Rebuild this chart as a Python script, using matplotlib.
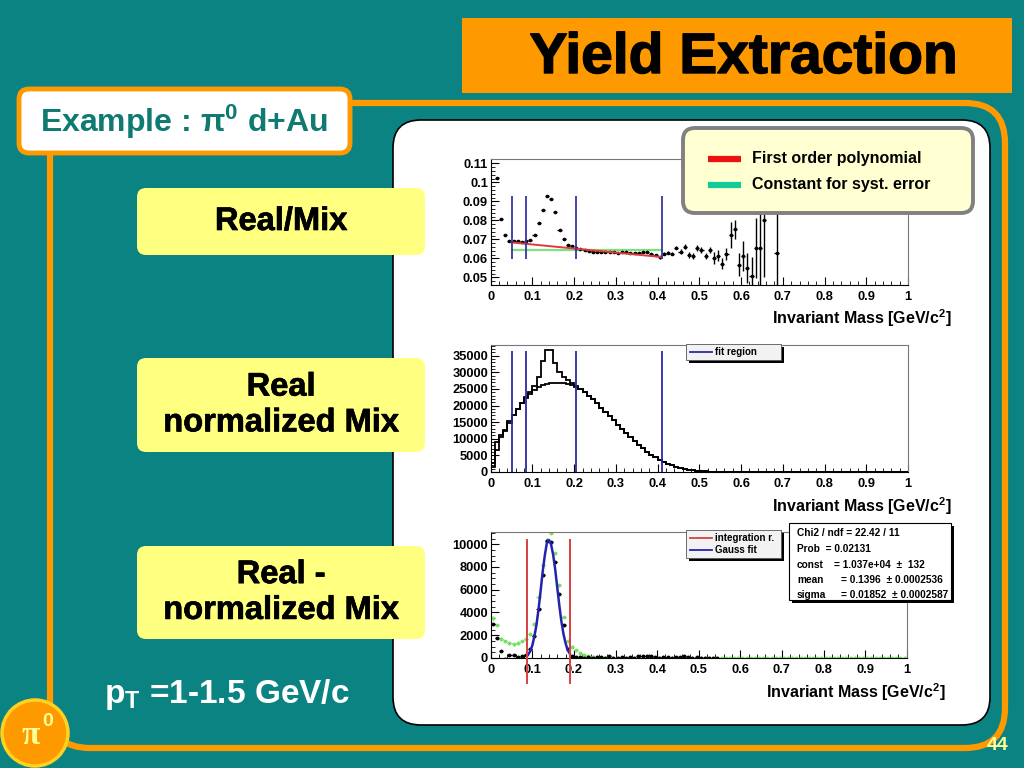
import numpy as np
import matplotlib.pyplot as plt
import matplotlib.patheffects as pe
from matplotlib.patches import FancyBboxPatch, Circle, Rectangle

plt.rcParams['font.family'] = ['Liberation Sans', 'DejaVu Sans']
plt.rcParams['font.weight'] = 'bold'

# ---------------- data ----------------
# fit region boundaries (GeV/c^2)
fit_edges = [0.05, 0.085, 0.205, 0.41]

# panel 1 : Real/Mix ratio
p1_mass = np.append(np.round(np.arange(0.015, 0.66, 0.01), 3), 0.685)
p1_ratio = [0.1022, 0.0808, 0.0724, 0.0692, 0.0693, 0.0690, 0.0688, 0.0690, 0.0697, 0.0722,
            0.0784, 0.0854, 0.0926, 0.0913, 0.0842, 0.0750, 0.0703, 0.0670, 0.0663, 0.0655,
            0.0648, 0.0643, 0.0640, 0.0634, 0.0634, 0.0634, 0.0632, 0.0636, 0.0632, 0.0630,
            0.0632, 0.0633, 0.0631, 0.0630, 0.0628, 0.0634, 0.0633, 0.0624, 0.0620, 0.0607,
            0.0625, 0.0631, 0.0624, 0.0655, 0.0636, 0.0662, 0.0619, 0.0614, 0.0655, 0.0645,
            0.0614, 0.0645, 0.0602, 0.0614, 0.0572, 0.0624, 0.0724, 0.0754, 0.0567, 0.0614,
            0.0549, 0.0509, 0.0655, 0.0655, 0.0803, 0.0628]
p1_err = [0.0004] * 39 + [0.0008] * 5 + [0.0015] * 8 + [0.003] * 4 + \
         [0.007, 0.005, 0.006, 0.008, 0.008, 0.010, 0.016, 0.020, 0.030, 0.030]
fit_x = [0.05, 0.41]
pol1_y = [0.0684, 0.0607]
const_y = [0.0645, 0.0645]

# panel 2 : Real and normalized Mix (bin width 0.01)
p2_edges = np.round(np.arange(0, 1.001, 0.01), 3)
mix_counts = [1500, 6500, 10500, 12300, 14800, 17000, 19000, 20800, 22300, 23600,
              24700, 25500, 26100, 26500, 26800, 26900, 26900, 26800, 26500, 26100,
              25600, 24900, 24000, 23000, 21900, 20700, 19400, 18100, 16800, 15500,
              14200, 12900, 11600, 10400, 9200, 8100, 7100, 6100, 5200, 4400,
              3700, 3100, 2500, 2000, 1600, 1250, 950, 720, 540, 400,
              290, 200, 140, 90, 60, 35, 20, 10, 5, 0] + [0] * 40
real_counts = [2700, 9000, 11200, 12500, 15200, 17200, 19000, 20700, 22600, 24000,
               26000, 28500, 33500, 36700, 36700, 32700, 30200, 28700, 27700, 26800,
               25800] + mix_counts[21:]

# panel 3 : Real - normalized Mix
p3_mass = np.round(np.arange(0.005, 1.0, 0.01), 3)
sub_black = [3000, 1800, 600, -100, 250, 300, 100, 200, 300, 800,
             1900, 4300, 7300, 10300, 10200, 8400, 5600, 2900, 800, 150,
             100, 50, 0, 80, 0, 60, 100, 30, 150, 20,
             40, 60, 0, 120, 40, 150, 200, 180, 150, 60,
             20, 80, 100, 30, 120, 50, 150, 100, 40, 80,
             30, 20, 10, 0, 0]
sub_green = [3500, 2900, 1700, 1500, 1300, 1200, 1300, 1500, 1700, 2100,
             3000, 5400, 8200, 10400, 11000, 9200, 6400, 3600, 1500, 1000,
             700, 450, 250, 150, 100, 60, 40, 30, 20, 10] + [0] * 70
gauss_x = [0.090, 0.095, 0.100, 0.105, 0.110, 0.115, 0.120, 0.125, 0.130, 0.135, 0.140,
           0.145, 0.150, 0.155, 0.160, 0.165, 0.170, 0.175, 0.180, 0.185, 0.190]
gauss_y = [300, 600, 1100, 1900, 2900, 4300, 5900, 7600, 9000, 10100, 10370,
           10000, 9100, 7800, 6200, 4600, 3200, 2100, 1300, 700, 400]
integ_edges = [0.087, 0.19]

stat_names = ['const', 'mean', 'sigma']
stat_vals = ['= 1.037e+04  \u00b1  132', '= 0.1396  \u00b1 0.0002536', '= 0.01852  \u00b1 0.0002587']

# ---------------- slide background ----------------
W, H = 1024, 768
fig = plt.figure(figsize=(10.24, 7.68), dpi=100)
fig.patch.set_facecolor('#0b8383')
bg = fig.add_axes([0, 0, 1, 1], zorder=0)
bg.set_xlim(0, W); bg.set_ylim(H, 0); bg.axis('off')

ORANGE = '#ff9900'
YELLOW = '#ffff80'
heavy = [pe.withStroke(linewidth=0.5, foreground='black')]


def rbox(ax, x0, y0, x1, y1, r, **kw):
    p = FancyBboxPatch((x0, y0), x1 - x0, y1 - y0,
                       boxstyle=f"round,pad=0,rounding_size={r}", **kw)
    ax.add_patch(p)
    return p


rbox(bg, 50, 103, 1005, 748, 40, fc='none', ec=ORANGE, lw=4.5)
bg.add_patch(Rectangle((462, 18), 550, 75, fc=ORANGE, ec='none'))
bg.text(744, 58, 'Yield Extraction', ha='center', va='center', fontsize=41,
        fontweight='bold', color='black', path_effects=[pe.withStroke(linewidth=1, foreground='black')])
rbox(bg, 393, 120, 990, 725, 28, fc='white', ec='black', lw=1.2)
rbox(bg, 19, 89, 350, 153, 10, fc='white', ec=ORANGE, lw=3.5)
bg.text(184, 122, r'Example : $\mathregular{\pi^0}$ d+Au', ha='center', va='center',
        fontsize=23, color='#0f7a72')

for top, bot, label in [(188, 255, 'Real/Mix'),
                        (358, 452, 'Real\nnormalized Mix'),
                        (546, 639, 'Real -\nnormalized Mix')]:
    rbox(bg, 137, top, 425, bot, 9, fc=YELLOW, ec='none')
    bg.text(281, (top + bot) / 2, label, ha='center', va='center', fontsize=23.5,
            color='black', linespacing=1.2, path_effects=heavy)

bg.text(104, 695, r'p$_\mathregular{T}$ =1-1.5 GeV/c', ha='left', va='center',
        fontsize=24, color='white')
bg.add_patch(Circle((35, 733), 33, fc=ORANGE, ec='#ffd21f', lw=2.5))
bg.text(31, 735, '\u03c0', ha='center', va='center', fontsize=24,
        color='#ffff99', family='Liberation Serif', fontweight='bold')
bg.text(48, 722, '0', ha='center', va='center', fontsize=14, color='#ffff99')
bg.text(998, 745, '44', ha='center', va='center', fontsize=14, color='#ffff99')


# ---------------- plot panels ----------------
def px_axes(l, t, r, b):
    return fig.add_axes([l / W, 1 - b / H, (r - l) / W, (b - t) / H], zorder=2)


def style(ax):
    ax.set_xlim(0, 1)
    ax.set_xticks(np.arange(0, 1.01, 0.1))
    ax.set_xticklabels(['0', '0.1', '0.2', '0.3', '0.4', '0.5', '0.6', '0.7', '0.8', '0.9', '1'])
    ax.set_xticks(np.arange(0, 1.001, 0.02), minor=True)
    ax.tick_params(which='both', direction='in', top=False, right=False, labelsize=9.3)
    ax.tick_params(axis='x', pad=4)
    ax.tick_params(axis='y', pad=2)
    ax.tick_params(which='major', length=6, width=0.8)
    ax.tick_params(which='minor', length=3, width=0.6)
    for lab in ax.get_xticklabels() + ax.get_yticklabels():
        lab.set_fontweight('bold')
    for s in ['top', 'right']:
        ax.spines[s].set_color('#777777')
    for s in ax.spines.values():
        s.set_linewidth(0.8)


# panel 1
ax1 = px_axes(490.7, 159, 908, 285)
ax1.errorbar(p1_mass, p1_ratio, yerr=p1_err, xerr=0.005, fmt='o', ms=1.6,
             color='black', elinewidth=1.0, capsize=0, zorder=3)
ax1.plot(fit_x, const_y, color='#7fe07f', lw=1.6, zorder=2)
ax1.plot(fit_x, pol1_y, color='#e03a3a', lw=1.4, zorder=4)
ax1.vlines(fit_edges, 0.0597, 0.0929, color='#3535a5', lw=1.3, zorder=5)
ax1.set_ylim(0.0462, 0.1123)
ax1.set_yticks([0.05, 0.06, 0.07, 0.08, 0.09, 0.10, 0.11])
ax1.set_yticklabels(['0.05', '0.06', '0.07', '0.08', '0.09', '0.1', '0.11'])
ax1.set_yticks(np.arange(0.046, 0.112, 0.002), minor=True)
style(ax1)

# panel 2
ax2 = px_axes(490.7, 345, 908, 472)
ax2.stairs(mix_counts, p2_edges, color='black', lw=1.3)
ax2.stairs(real_counts, p2_edges, color='black', lw=1.3)
ax2.vlines(fit_edges, 0, 36500, color='#2a2aa5', lw=1.3)
ax2.set_ylim(0, 38200)
ax2.set_yticks(np.arange(0, 35001, 5000))
ax2.set_yticklabels([str(v) for v in range(0, 35001, 5000)])
ax2.set_yticks(np.arange(0, 38001, 1000), minor=True)
style(ax2)

# panel 3
ax3 = px_axes(490.7, 531.7, 906.7, 658)
ax3.errorbar(p3_mass, sub_green, xerr=0.005, yerr=120, fmt='o', ms=1.8,
             color='#77e066', elinewidth=0.9, capsize=0, zorder=2)
ax3.errorbar(p3_mass[:len(sub_black)], sub_black, xerr=0.005, yerr=60, fmt='o', ms=1.8,
             color='black', elinewidth=0.9, capsize=0, zorder=3)
ax3.plot(gauss_x, gauss_y, color='#2323b0', lw=1.8, zorder=4)
ax3.set_ylim(0, 11100)
ax3.set_yticks(np.arange(0, 10001, 2000))
ax3.set_yticklabels([str(v) for v in range(0, 10001, 2000)])
ax3.set_yticks(np.arange(0, 11001, 500), minor=True)
style(ax3)
for xv in integ_edges:
    ax3.plot([xv, xv], [-0.2, 0.934], transform=ax3.get_xaxis_transform(),
             color='#d84040', lw=1.4, clip_on=False, zorder=5)

# ---------------- overlay: legends, labels, stat box ----------------
ov = fig.add_axes([0, 0, 1, 1], zorder=10)
ov.set_xlim(0, W); ov.set_ylim(H, 0); ov.axis('off')
ov.patch.set_alpha(0)

for yl, xr in [(318, 952), (506, 952), (692, 946)]:
    ov.text(xr, yl, r'Invariant Mass [GeV/c$^\mathregular{2}$]', ha='right', va='center',
            fontsize=11.5, color='black')

# panel 1 legend
rbox(ov, 683, 128, 973, 213, 12, fc='#ffffd2', ec='#808080', lw=2.8)
ov.plot([708, 741], [159, 159], color='#ee1111', lw=4.5, solid_capstyle='butt')
ov.plot([708, 741], [185, 185], color='#11cc99', lw=4.5, solid_capstyle='butt')
ov.text(752, 159, 'First order polynomial', va='center', fontsize=11.5)
ov.text(752, 184, 'Constant for syst. error', va='center', fontsize=11.5)

# panel 2 legend
ov.add_patch(Rectangle((689, 347), 95, 16, fc='black', ec='none'))
ov.add_patch(Rectangle((686, 344), 95, 16, fc='#f2f2f2', ec='#555555', lw=0.6))
ov.plot([690, 712], [352, 352], color='#2a2aa5', lw=1.3)
ov.text(715, 352, 'fit region', va='center', fontsize=7)

# panel 3 legend
ov.add_patch(Rectangle((689, 533), 95, 28, fc='black', ec='none'))
ov.add_patch(Rectangle((686, 530), 95, 28, fc='#f2f2f2', ec='#555555', lw=0.6))
ov.plot([690, 712], [538, 538], color='#d84040', lw=1.3)
ov.plot([690, 712], [550, 550], color='#2323b0', lw=1.3)
ov.text(715, 538, 'integration r.', va='center', fontsize=7)
ov.text(715, 550, 'Gauss fit', va='center', fontsize=7)

# stat box
ov.add_patch(Rectangle((792, 526), 162, 77, fc='black', ec='none'))
ov.add_patch(Rectangle((789, 523), 162, 77, fc='white', ec='black', lw=0.8))
ov.text(797, 533, 'Chi2 / ndf = 22.42 / 11', va='center', fontsize=7.3)
ov.text(797, 549, 'Prob  = 0.02131', va='center', fontsize=7.3)
for i, (nm, vl) in enumerate(zip(stat_names, stat_vals)):
    ov.text(797, 565 + 15 * i, nm, va='center', fontsize=7.3)
    ov.text(834 if i == 0 else 841, 565 + 15 * i, vl, va='center', fontsize=7.3)

fig.savefig('out.png', dpi=100, facecolor=fig.get_facecolor())
